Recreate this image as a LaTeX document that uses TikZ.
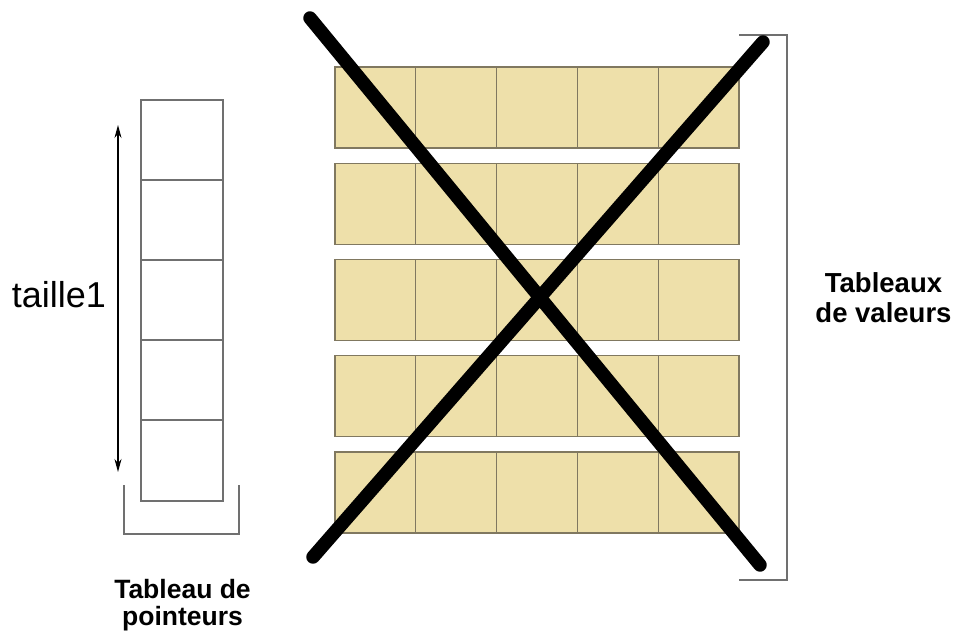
\documentclass[tikz,border=0pt]{standalone}
\usepackage{fontspec}
\setmainfont{Liberation Sans}
\usetikzlibrary{arrows.meta}
\definecolor{tanfill}{RGB}{238,224,170}
\definecolor{celledge}{RGB}{128,120,96}
\definecolor{ptredge}{RGB}{112,112,112}
\begin{document}
\begin{tikzpicture}[x=1pt,y=-1pt,
 vcell/.style={draw=celledge,fill=tanfill,line width=1.3pt,minimum width=80.8pt,minimum height=81pt,inner sep=0pt,outer sep=0pt,anchor=north west},
 pcell/.style={draw=ptredge,line width=2pt,minimum width=82pt,minimum height=80.2pt,inner sep=0pt,outer sep=0pt,anchor=north west},
 bracket/.style={draw=ptredge,line width=1.3pt},
 cross/.style={line width=13.5pt,line cap=round},
 dimarrow/.style={{Stealth[length=13pt,width=7pt]}-{Stealth[length=13pt,width=7pt]},line width=1.2pt},
 biglabel/.style={font=\bfseries\fontsize{26.5}{27}\selectfont,align=center,inner sep=0pt}]
\useasboundingbox (0,0) rectangle (955,634);
% pointer table
\foreach \r in {0,...,4}
  \node[pcell] (p\r) at (140.7,{99.5+80.2*\r}) {};
% value tables
\foreach \r in {0,...,4}
  \foreach \c in {0,...,4}
    \node[vcell] (v\r\c) at ({335+80.8*\c},{67+96.25*\r}) {};
% dimension arrow
\coordinate (atop) at (118,125);
\coordinate (abot) at (118,472);
\draw[dimarrow] (atop) -- (abot);
\node[font=\fontsize{36}{40}\selectfont,anchor=base,inner sep=0pt] (taille) at (59,307) {taille1};
% bracket below pointer table
\coordinate (bl1) at (124,485);
\coordinate (bl2) at (124,534);
\coordinate (bl3) at (239,534);
\coordinate (bl4) at (239,485);
\draw[bracket] (bl1) -- (bl2) -- (bl3) -- (bl4);
% bracket right of value tables
\coordinate (br1) at (739,35);
\coordinate (br2) at (787,35);
\coordinate (br3) at (787,580);
\coordinate (br4) at (739,580);
\draw[bracket] (br1) -- (br2) -- (br3) -- (br4);
% labels
\node[biglabel] (ptrlabel) at (182.5,605) {Tableau de\\pointeurs};
\node[biglabel,font=\bfseries\fontsize{27.5}{30}\selectfont] (vallabel) at (883.5,297.5) {Tableaux\\de valeurs};
% cross
\coordinate (x1a) at (310,18);
\coordinate (x1b) at (760,565);
\coordinate (x2a) at (763,42);
\coordinate (x2b) at (313,557);
\draw[cross] (x1a) -- (x1b);
\draw[cross] (x2a) -- (x2b);
\end{tikzpicture}
\end{document}
